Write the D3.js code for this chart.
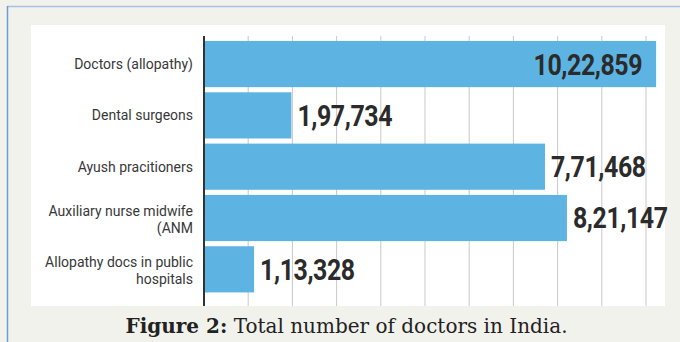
<!DOCTYPE html>
<html><head><meta charset="utf-8">
<script src="https://cdn.jsdelivr.net/npm/d3@7"></script>
<style>
html,body{margin:0;padding:0;background:#f2f2ed;}
svg{display:block;}
</style></head>
<body>
<svg id="chart" width="680" height="342"></svg>
<script>
const categories = [
  ["Doctors (allopathy)"],
  ["Dental surgeons"],
  ["Ayush pracitioners"],
  ["Auxiliary nurse midwife", "(ANM"],
  ["Allopathy docs in public", "hospitals"]
];
const values = [1022859, 197734, 771468, 821147, 113328];
const valueLabels = ["10,22,859", "1,97,734", "7,71,468", "8,21,147", "1,13,328"];
const gridTicks = [100000, 200000, 300000, 400000, 500000, 600000, 700000, 800000, 900000, 1000000];
const caption = ["Figure 2:", " Total number of doctors in India."];

const svg = d3.select("#chart");
svg.append("rect").attr("x",0).attr("y",0).attr("width",680).attr("height",342).attr("fill","#f2f2ed");
svg.append("line").attr("x1",7).attr("x2",680).attr("y1",6.5).attr("y2",6.5).attr("stroke","#a7c0e8").attr("stroke-width",1.5);
svg.append("line").attr("x1",7.5).attr("x2",7.5).attr("y1",6).attr("y2",342).attr("stroke","#6e9ad8").attr("stroke-width",1.5);
svg.append("rect").attr("x",31).attr("y",25).attr("width",634).attr("height",281).attr("fill","#ffffff");

const x = d3.scaleLinear().domain([0, 1000000]).range([204, 646]);
const idx = d3.range(values.length);
const y = d3.scaleBand().domain(idx).range([38.4, 295]).paddingInner(0.1).paddingOuter(0.05);

// grid
svg.append("g").selectAll("line").data(gridTicks).join("line")
  .attr("x1", d => x(d)).attr("x2", d => x(d))
  .attr("y1", 36).attr("y2", 306)
  .attr("stroke", "#c9c9c9").attr("stroke-width", 1);

// bars
svg.append("g").selectAll("rect").data(idx).join("rect")
  .attr("x", x(0)).attr("y", i => y(i))
  .attr("width", i => x(values[i]) - x(0))
  .attr("height", y.bandwidth())
  .attr("fill", "#5db4e3");

// axis line
svg.append("line").attr("x1", x(0)).attr("x2", x(0)).attr("y1", 36).attr("y2", 306)
  .attr("stroke", "#333").attr("stroke-width", 2);

// category labels
const lab = svg.append("g").attr("font-family", "Roboto, 'Noto Sans', sans-serif")
  .attr("font-size", 14).attr("fill", "#383838").attr("text-anchor", "end");
idx.forEach(i => {
  const lines = categories[i];
  const cy = y(i) + y.bandwidth()/2 + (lines.length > 1 ? 1.5 : 0);
  const lh = 17;
  lines.forEach((t, k) => {
    lab.append("text").attr("x", 193)
      .attr("y", cy + (k - (lines.length-1)/2) * lh)
      .attr("dy", "0.35em").text(t);
  });
});

// value labels (condensed bold)
const sx = 0.86;
const vl = svg.append("g").attr("font-family", "Roboto, 'Liberation Sans', sans-serif")
  .attr("font-weight", "bold").attr("font-size", 29).attr("fill", "#2b2b2b");
idx.forEach(i => {
  const inside = i === 0;
  const tx = inside ? x(values[i]) - 14 : x(values[i]) + 6;
  vl.append("text")
    .attr("transform", `translate(${tx},${y(i) + y.bandwidth()/2}) scale(${sx},1)`)
    .attr("dy", "0.36em")
    .attr("letter-spacing", -0.5)
    .attr("text-anchor", inside ? "end" : "start")
    .text(valueLabels[i]);
});

// caption
const cap = svg.append("text").attr("x", 346.5).attr("y", 333)
  .attr("text-anchor", "middle").attr("font-family", "'DejaVu Serif', serif")
  .attr("font-size", 20).attr("fill", "#222");
cap.append("tspan").attr("font-weight", "bold").text(caption[0]);
cap.append("tspan").text(caption[1]);
</script>
</body></html>
